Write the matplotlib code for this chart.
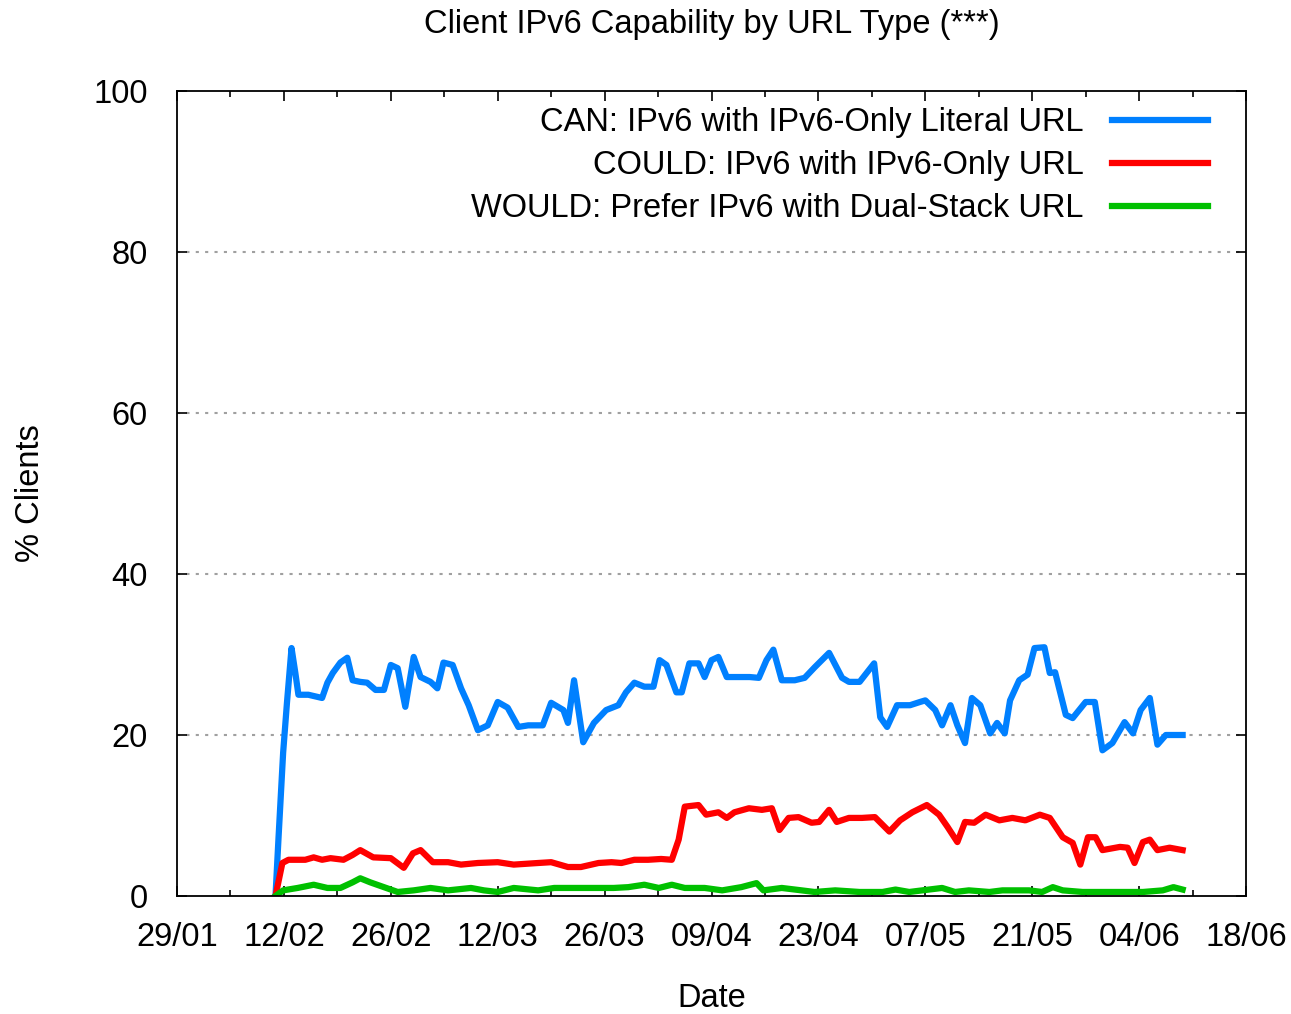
import numpy as np
import matplotlib
matplotlib.use('Agg')
import matplotlib.pyplot as plt
import pandas as pd

# ===============================================================
# data (days after 29/01, percent of clients)
# ===============================================================
start = pd.Timestamp('2011-01-29')
end = pd.Timestamp('2011-06-18')

can_day = [12.9, 13.3, 13.9, 14.4, 15.0, 15.5, 15.9, 17.2, 19.0, 19.7,
           20.4, 21.4, 22.3, 23.0, 24.0, 24.9, 26.0, 27.1, 28.0, 28.9,
           29.9, 31.0, 31.9, 33.2, 34.1, 34.9, 36.1, 37.2, 38.2, 39.4,
           40.7, 42.0, 43.3, 44.7, 46.0, 47.9, 49.0, 50.6, 51.2, 52.0,
           53.2, 54.6, 56.2, 57.8, 58.8, 59.9, 61.2, 62.4, 63.2, 64.1,
           65.4, 66.1, 67.1, 68.3, 69.1, 70.0, 70.9, 72.0, 73.5, 75.0,
           76.2, 77.2, 78.1, 79.2, 80.9, 82.2, 83.5, 85.4, 87.1, 88.0,
           89.4, 91.3, 92.1, 93.0, 94.3, 96.0, 97.3, 98.0, 99.3, 100.2,
           101.3, 102.2, 103.2, 104.1, 105.2, 106.5, 107.4, 108.4, 109.1, 110.3,
           111.4, 112.3, 113.6, 114.3, 115.0, 116.4, 117.3, 119.0, 120.2, 121.2,
           122.5, 124.1, 125.2, 126.2, 127.4, 128.4, 129.5, 131.7]
can_val = [0, 7.3, 17.8, 24, 30.8, 27.7, 25, 25, 24.6, 26.5,
           27.7, 29, 29.6, 26.8, 26.6, 26.5, 25.6, 25.6, 28.7, 28.3,
           23.5, 29.7, 27.2, 26.6, 25.8, 29, 28.7, 25.8, 23.7, 20.6,
           21.2, 24.1, 23.4, 21, 21.2, 21.2, 24, 23.1, 21.5, 26.8,
           19.1, 21.5, 23.1, 23.7, 25.3, 26.5, 26, 26, 29.3, 28.7,
           25.3, 25.3, 28.9, 28.9, 27.2, 29.3, 29.7, 27.2, 27.2, 27.2,
           27.1, 29.3, 30.6, 26.8, 26.8, 27.1, 28.4, 30.2, 27.1, 26.6,
           26.6, 28.9, 22.2, 21, 23.7, 23.7, 24.1, 24.3, 23.1, 21.2,
           23.7, 21.2, 19, 24.6, 23.7, 20.2, 21.5, 20.2, 24.3, 26.8,
           27.5, 30.8, 30.9, 27.7, 27.8, 22.5, 22.1, 24.1, 24.1, 18.1,
           19, 21.6, 20.2, 23.1, 24.6, 18.8, 20, 20]

could_day = [12.9, 13.8, 14.6, 15.8, 16.8, 17.9, 19.0, 20.1, 21.8, 23.0,
             24.0, 25.7, 28.0, 29.7, 30.9, 31.9, 33.5, 35.5, 37.2, 39.4,
             42.0, 44.1, 47.3, 49.0, 51.2, 52.9, 55.2, 56.9, 58.2, 59.9,
             61.7, 63.4, 64.8, 65.7, 66.5, 68.3, 69.3, 70.9, 72.0, 73.0,
             74.9, 76.6, 77.9, 78.9, 80.1, 81.4, 83.1, 84.1, 85.4, 86.4,
             88.0, 89.7, 91.4, 93.3, 94.7, 96.3, 98.2, 99.8, 100.9, 102.2,
             103.2, 104.4, 105.9, 107.7, 109.4, 111.1, 113.0, 114.3, 116.0, 117.3,
             118.3, 119.3, 120.3, 121.2, 123.5, 124.5, 125.4, 126.5, 127.4, 128.4,
             130.0, 131.7]
could_val = [0, 4.1, 4.5, 4.5, 4.5, 4.8, 4.5, 4.7, 4.5, 5.1,
             5.7, 4.8, 4.7, 3.5, 5.3, 5.7, 4.2, 4.2, 3.9, 4.1,
             4.2, 3.9, 4.1, 4.2, 3.6, 3.6, 4.1, 4.2, 4.1, 4.5,
             4.5, 4.6, 4.5, 7, 11.1, 11.3, 10.1, 10.4, 9.7, 10.4,
             10.9, 10.7, 10.9, 8.2, 9.7, 9.8, 9.1, 9.2, 10.7, 9.2,
             9.7, 9.7, 9.8, 8, 9.4, 10.4, 11.3, 10.1, 8.6, 6.7,
             9.2, 9.1, 10.1, 9.4, 9.7, 9.4, 10.1, 9.7, 7.3, 6.6,
             3.9, 7.3, 7.3, 5.7, 6.1, 6, 4.1, 6.7, 7, 5.7,
             6, 5.7]

would_day = [12.9, 13.9, 15.8, 17.9, 19.7, 21.4, 23.0, 24.0, 25.3, 27.1,
             28.9, 31.0, 33.2, 35.5, 38.5, 40.2, 42.0, 44.1, 47.3, 49.4,
             52.9, 55.6, 57.2, 59.1, 61.2, 63.1, 64.8, 66.5, 69.1, 71.4,
             73.9, 75.9, 76.8, 79.2, 81.8, 83.5, 86.2, 89.4, 92.4, 94.1,
             95.9, 97.6, 100.2, 101.9, 103.7, 106.4, 108.1, 111.6, 113.3, 114.7,
             116.0, 118.6, 121.2, 123.9, 126.5, 129.1, 130.5, 131.7]
would_val = [0, 0.7, 1, 1.4, 1, 1, 1.7, 2.2, 1.7, 1.1,
             0.5, 0.7, 1, 0.7, 1, 0.7, 0.5, 1, 0.7, 1,
             1, 1, 1, 1.1, 1.4, 1, 1.4, 1, 1, 0.7,
             1.1, 1.6, 0.7, 1, 0.7, 0.5, 0.7, 0.5, 0.5, 0.8,
             0.5, 0.7, 1, 0.5, 0.7, 0.5, 0.7, 0.7, 0.5, 1.1,
             0.7, 0.5, 0.5, 0.5, 0.5, 0.7, 1.1, 0.8]

labels = ['CAN: IPv6 with IPv6-Only Literal URL',
          'COULD: IPv6 with IPv6-Only URL',
          'WOULD: Prefer IPv6 with Dual-Stack URL']
colors = ['#0080ff', '#ff0000', '#00c000']
title = 'Client IPv6 Capability by URL Type (***)'

# ===============================================================
# plot settings
# ===============================================================
plt.rcParams['font.family'] = ['Liberation Sans', 'DejaVu Sans']
fs = 23.5   # tick / legend / label font size
lw = 4.5    # linewidth

fig = plt.figure(figsize=(12.91, 10.14), dpi=100)
ax1 = fig.add_axes([177/1291, 1-896/1014, (1246-177)/1291, (896-91)/1014])

def to_dates(days):
    return start + pd.to_timedelta(np.array(days), unit='D')

series = [(can_day, can_val), (could_day, could_val), (would_day, would_val)]
for (d, v), lab, c in zip(series, labels, colors):
    ax1.plot(to_dates(d), v, color=c, lw=lw, label=lab)

# axes limits and ticks
ax1.set_xlim(start, end)
ax1.set_ylim(0, 100)
weekly = pd.date_range(start, end, freq='7D')
ax1.set_xticks(weekly[::2])
ax1.set_xticklabels([t.strftime('%d/%m') for t in weekly[::2]])
ax1.set_xticks(weekly[1::2], minor=True)
ax1.set_yticks(np.arange(0, 101, 20))

ax1.tick_params(which='major', direction='in', length=7, width=1.2, labelsize=fs,
                top=True, right=True)
ax1.tick_params(which='minor', direction='in', length=4, width=1.2, top=True)
ax1.tick_params(axis='x', which='major', pad=19)
ax1.tick_params(axis='y', which='major', pad=21)
for s in ax1.spines.values():
    s.set_linewidth(1.3)

# dotted grid lines
for yv in [20, 40, 60, 80]:
    ax1.axhline(yv, color='#a0a0a0', lw=1.5, ls=(0, (1.5, 3)), zorder=0)

# labels and title
ax1.set_xlabel('Date', fontsize=fs)
ax1.xaxis.set_label_coords(0.5, -(983-896)/805)
ax1.set_ylabel('% Clients', fontsize=fs)
ax1.yaxis.set_label_coords(-(177-46)/1069, 0.5)
fig.text((177+1246)/2/1291, 1-24/1014, title, fontsize=23.5, ha='center', va='center')

# legend
ax1.legend(loc='upper right', bbox_to_anchor=(1 - 38/1069, 1 - 16/805), frameon=False,
           markerfirst=False, fontsize=fs, handlelength=2.95, handletextpad=0.85,
           labelspacing=0.37, borderaxespad=0, borderpad=0)

fig.savefig('out.png', dpi=100)
